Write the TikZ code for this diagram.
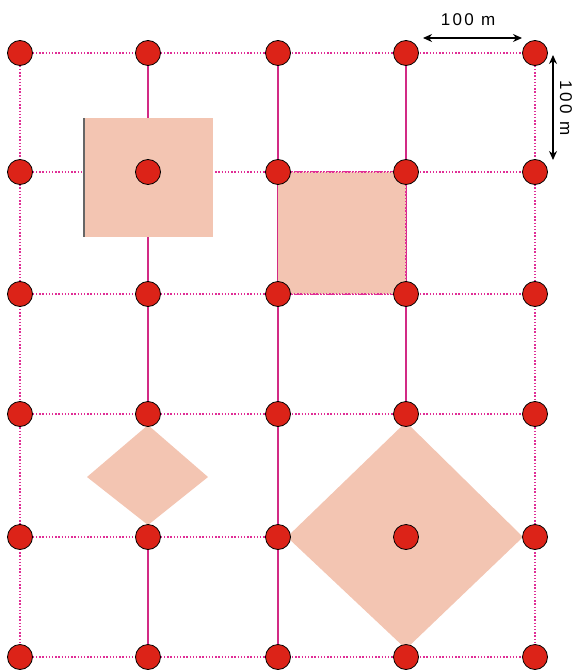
\documentclass[tikz,border=0pt]{standalone}
\usepackage{fontspec}
\setmainfont{Liberation Sans}
\usetikzlibrary{arrows.meta}
\definecolor{gridmag}{HTML}{E02E96}
\definecolor{gridsolid}{HTML}{D22A85}
\definecolor{plotfill}{HTML}{F3C5B2}
\definecolor{dotred}{HTML}{DC2318}
\tikzset{
  dotline/.style={gridmag, line width=2.2pt, dash pattern=on 1.4pt off 1.8pt},
  solidline/.style={gridsolid, line width=1.8pt},
  plot/.style={fill=plotfill, draw=none},
  station/.style={circle, fill=dotred, draw=black, line width=0.8pt, minimum size=25pt, inner sep=0pt},
  dimarrow/.style={{Stealth[length=9pt,width=8pt]}-{Stealth[length=9pt,width=8pt]}, line width=1.3pt, black},
  dimlabel/.style={font=\fontsize{17}{17}\selectfont\addfontfeature{LetterSpace=14}, inner sep=0pt}
}
\begin{document}
\begin{tikzpicture}[x=1pt,y=-1pt]
\useasboundingbox (0,0) rectangle (574,671);
% grid coordinates
\foreach \i/\x in {1/20,2/148,3/278,4/406,5/535}{
  \foreach \j/\y in {1/53,2/172,3/294,4/414,5/537,6/657}{
    \coordinate (c-\i-\j) at (\x,\y);
  }
}
% horizontal lines (dotted)
\foreach \j in {1,...,6}{
  \draw[dotline] (c-1-\j) -- (c-5-\j);
}
% outer vertical lines (dotted)
\draw[dotline] (c-1-1) -- (c-1-6);
\draw[dotline] (c-5-1) -- (c-5-6);
% inner vertical lines (solid)
\foreach \i in {2,3,4}{
  \draw[solidline] (c-\i-1) -- (c-\i-6);
}
% plots
\coordinate (sq1a) at (84,118);
\coordinate (sq1b) at (213,237);
\fill[plot] (sq1a) rectangle (sq1b);
\draw[black!60, line width=1.2pt] (sq1a) -- (84,237);
\fill[plot] (c-3-2) rectangle (c-4-3);
\draw[dotline] (c-3-2) -- (c-4-2);
\draw[dotline] (c-3-3) -- (c-4-3);
\draw[dotline] (c-4-2) -- (c-4-3);
\fill[plot] (148,425) -- (208,477) -- (148,525) -- (87,477) -- cycle;
\fill[plot] (406,422) -- (523,537) -- (406,649) -- (287,537) -- cycle;
% stations
\foreach \i in {1,...,5}{
  \foreach \j in {1,...,6}{
    \node[station] (d-\i-\j) at (c-\i-\j) {};
  }
}
% dimensions
\coordinate (ha) at (423,38);
\coordinate (hb) at (522,38);
\draw[dimarrow] (ha) -- (hb);
\node[dimlabel] (hl) at (468,20) {100 m};
\coordinate (va) at (553,55);
\coordinate (vb) at (553,160);
\draw[dimarrow] (va) -- (vb);
\node[dimlabel, rotate=-90] (vl) at (566,108) {100 m};
\end{tikzpicture}
\end{document}
